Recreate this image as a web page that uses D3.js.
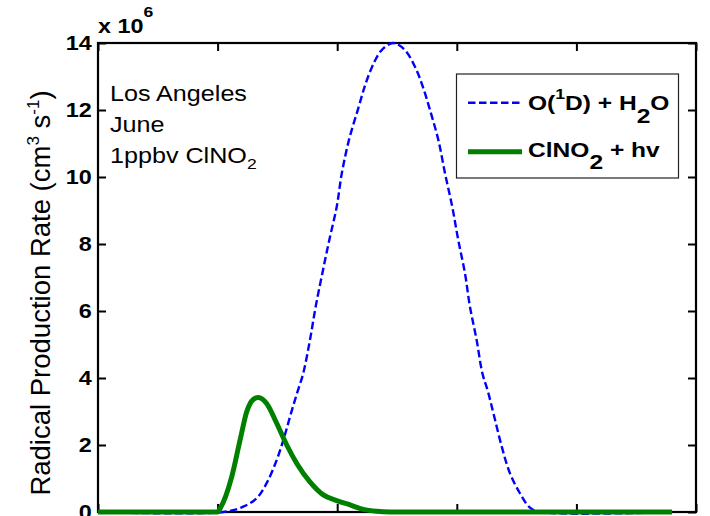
<!DOCTYPE html>
<html>
<head>
<meta charset="utf-8">
<script src="https://cdn.jsdelivr.net/npm/d3@7"></script>
<style>
  html, body { margin: 0; padding: 0; background: #fff; overflow: hidden; }
  text { white-space: pre; }
</style>
</head>
<body>
<svg id="chart" width="710" height="516"></svg>
<script>
// 数据 (x: 小时, y: x10^6 cm^-3 s^-1)
const hoursO1D = [0, 5.24, 6.07, 6.63, 7.05, 7.47, 7.75, 8.03, 8.30, 8.58, 8.86, 9.10, 9.38, 9.67, 9.98,
  10.19, 10.49, 10.88, 11.20, 11.55, 11.86, 12.33, 12.83, 13.29, 13.60, 13.88, 14.23, 14.51, 14.81, 15.06,
  15.34, 15.55, 15.83, 16.07, 16.30, 16.53, 16.88, 17.22, 17.64, 18.06, 18.5, 24];
const rateO1D = [0, 0, 0.16, 0.41, 0.86, 1.55, 2.15, 2.85, 3.5, 4.14, 5.13, 6.13, 7.13, 8.12, 9.11,
  10.1, 11.1, 12.05, 12.81, 13.43, 13.79, 14.0, 13.79, 13.23, 12.65, 12.0, 11.1, 10.1, 9.11, 8.12,
  7.13, 6.13, 5.13, 4.14, 3.6, 2.95, 1.95, 1.16, 0.56, 0.13, 0, 0];

const hoursClNO2 = [0, 5.0, 5.1, 5.59, 5.94, 6.22, 6.49, 6.70, 7.05, 7.47, 7.89, 8.31, 8.86, 9.42,
  9.98, 10.54, 11.09, 11.65, 12.2, 24];
const rateClNO2 = [0, 0, 0.1, 1.05, 2.15, 3.0, 3.36, 3.42, 3.24, 2.65, 2.0, 1.45, 0.9, 0.51,
  0.34, 0.21, 0.08, 0.02, 0, 0];

const xTicks = [0, 5, 10, 15, 20, 25];
const yTicks = [0, 2, 4, 6, 8, 10, 12, 14];

const FONT = '"Liberation Sans", Arial, sans-serif';
const SX = 1.17; // 横向拉伸

const svg = d3.select('#chart');
const W = 710, H = 516;
const margin = { top: 43, right: 14, bottom: 4, left: 98 };

const x = d3.scaleLinear().domain([0, 25]).range([margin.left, W - margin.right]);
const y = d3.scaleLinear().domain([0, 14]).range([H - margin.bottom, margin.top]);

// 带上下标的文字
function richText(parent, px, py, parts, o) {
  const g = parent.append('g')
    .attr('transform', `translate(${px},${py}) rotate(${o.rotate || 0}) scale(${o.sx || 1},1)`);
  const t = g.append('text')
    .attr('font-family', FONT)
    .attr('font-size', o.size)
    .attr('font-weight', o.weight || 'normal')
    .attr('text-anchor', o.anchor || 'start')
    .attr('fill', '#000');
  let cur = 0;
  parts.forEach(p => {
    const str = p[0], shift = p[1] || 0, size = p[2] || o.size;
    t.append('tspan').attr('dy', shift - cur).attr('font-size', size).text(str);
    cur = shift;
  });
  return t;
}

// 坐标轴
const axisStyle = g => {
  g.select('.domain').remove();
  g.selectAll('.tick line').attr('stroke', '#000').attr('stroke-width', 2);
};

svg.append('g')
  .attr('transform', `translate(${margin.left},0)`)
  .call(d3.axisLeft(y).tickValues(yTicks).tickSize(-8).tickPadding(5.4).tickFormat(d3.format('d')))
  .call(axisStyle)
  .call(g => g.selectAll('.tick text')
    .attr('font-family', FONT).attr('font-size', 20).attr('font-weight', 'bold')
    .attr('fill', '#000').attr('transform', `scale(${SX},1)`));

svg.append('g')
  .attr('transform', `translate(${W - margin.right},0)`)
  .call(d3.axisRight(y).tickValues(yTicks).tickSize(-8).tickFormat(''))
  .call(axisStyle);

svg.append('g')
  .attr('transform', `translate(0,${margin.top})`)
  .call(d3.axisTop(x).tickValues(xTicks).tickSize(-8).tickFormat(''))
  .call(axisStyle);

svg.append('g')
  .attr('transform', `translate(0,${H - margin.bottom})`)
  .call(d3.axisBottom(x).tickValues(xTicks).tickSize(-8).tickFormat(''))
  .call(axisStyle);

// 外框
svg.append('rect')
  .attr('x', x(0)).attr('y', y(14))
  .attr('width', x(25) - x(0)).attr('height', y(0) - y(14))
  .attr('fill', 'none').attr('stroke', '#000').attr('stroke-width', 2.2);

// 曲线
const line = d3.line()
  .x(d => x(d[0]))
  .y(d => y(d[1]))
  .curve(d3.curveCatmullRom.alpha(0.5));

svg.append('path')
  .datum(d3.zip(hoursO1D, rateO1D))
  .attr('d', line)
  .attr('fill', 'none')
  .attr('stroke', '#0000ff')
  .attr('stroke-width', 2.4)
  .attr('stroke-dasharray', '7.5,3.5');

svg.append('path')
  .datum(d3.zip(hoursClNO2, rateClNO2))
  .attr('d', line.curve(d3.curveMonotoneX))
  .attr('fill', 'none')
  .attr('stroke', '#008000')
  .attr('stroke-width', 5)
  .attr('stroke-linejoin', 'round');

// 图例
const legend = svg.append('g');
legend.append('rect')
  .attr('x', 456.5).attr('y', 74).attr('width', 222).attr('height', 104)
  .attr('fill', '#fff').attr('stroke', '#222').attr('stroke-width', 1.2);
legend.append('line')
  .attr('x1', 468).attr('x2', 522).attr('y1', 102.7).attr('y2', 102.7)
  .attr('stroke', '#0000ff').attr('stroke-width', 2.4).attr('stroke-dasharray', '7.5,3.5');
legend.append('line')
  .attr('x1', 468).attr('x2', 522).attr('y1', 151.7).attr('y2', 151.7)
  .attr('stroke', '#008000').attr('stroke-width', 5);
richText(legend, 528, 110, [['O('], ['1', -11, 15], ['D) + H', 0], ['2', 13], ['O', 0]],
  { size: 21, weight: 'bold', sx: SX });
richText(legend, 528, 157, [['ClNO'], ['2', 12], [' + hv', 0]],
  { size: 21, weight: 'bold', sx: SX });

// 注释文字
richText(svg, 110, 100.5, [['Los Angeles']], { size: 21.5, sx: SX });
richText(svg, 110, 131.5, [['June']], { size: 21.5, sx: SX });
richText(svg, 110, 162.5, [['1ppbv ClNO'], ['2', 6, 15]], { size: 21.5, sx: SX });

// 乘数 x 10^6
richText(svg, 98, 33, [['x 10'], ['6', -16.5, 15]], { size: 20, weight: 'bold', sx: SX });

// Y轴标题
richText(svg, 49.5, 293,
  [['Radical Production Rate (cm'], ['3', -11, 17], [' s', 0], ['-1', -11, 17], [')', 0]],
  { size: 27.5, rotate: -90, anchor: 'middle' });
</script>
</body>
</html>
